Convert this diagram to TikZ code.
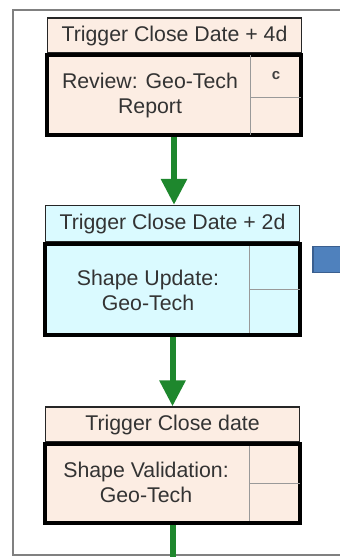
\documentclass[tikz,border=0pt]{standalone}
\usepackage{fontspec}
\setmainfont{Liberation Sans}
\usetikzlibrary{arrows.meta}
\definecolor{peach}{RGB}{252,237,227}
\definecolor{lcyan}{RGB}{218,250,255}
\definecolor{fgreen}{RGB}{30,135,45}
\definecolor{sblue}{RGB}{79,129,189}
\definecolor{sbluedark}{RGB}{58,95,143}
\definecolor{framegray}{RGB}{128,128,128}
\tikzset{
  hdr/.style={draw=black!85, line width=1.3pt, minimum width=254pt, inner sep=0pt, font=\fontsize{21.3}{24}\selectfont, text=black!80},
  mainbox/.style={draw=black, line width=4pt, minimum width=255pt, inner sep=0pt},
  lbl/.style={align=center, font=\fontsize{21.3}{25}\selectfont, text=black!80, inner sep=0pt},
  divider/.style={draw=black!40, line width=0.9pt},
  flow/.style={draw=fgreen, line width=6pt, -{Triangle[width=25pt,length=26pt]}}
}
\begin{document}
\begin{tikzpicture}[x=1pt,y=-1pt]
\clip (0,0) rectangle (340,557);
\fill[white] (0,0) rectangle (340,557);
% outer frame
\draw[framegray, line width=1.5pt] (340,10) -- (13,10) -- (13,555) -- (340,555);

% box 1
\node[hdr, fill=peach, minimum height=35pt] (h1) at (174.5,35.5) {Trigger Close Date + 4d};
\node[mainbox, fill=peach, minimum width=254pt, minimum height=80pt] (m1) at (174,95) {};
\draw[divider] (250,55) -- (250,135);
\draw[divider] (250,97) -- (301,97);
\node[lbl] (t1) at (150,95) {Review: Geo-Tech\\Report};
\node[inner sep=0pt, font=\fontsize{15}{17}\selectfont\bfseries, text=black!75] (c1) at (276,76) {c};

% box 2
\node[hdr, fill=lcyan, minimum height=36pt] (h2) at (172.5,223.5) {Trigger Close Date + 2d};
\node[mainbox, fill=lcyan, minimum height=91pt] (m2) at (172.5,289.5) {};
\draw[divider] (249,246) -- (249,333);
\draw[divider] (249,289) -- (300,289);
\node[lbl] (t2) at (148,290) {Shape Update:\\Geo-Tech};

% box 3
\node[hdr, fill=peach, minimum height=35pt] (h3) at (172.5,424.5) {Trigger Close date};
\node[mainbox, fill=peach, minimum height=79pt] (m3) at (172.5,483.5) {};
\draw[divider] (249,446) -- (249,521);
\draw[divider] (249,483) -- (300,483);
\node[lbl] (t3) at (146,482) {Shape Validation:\\Geo-Tech};

% blue block at right
\node[draw=sbluedark, fill=sblue, line width=1.5pt, minimum width=40pt, minimum height=26pt, inner sep=0pt] (b1) at (333,259.5) {};

% connectors
\coordinate (e3) at (172.5,560);
\draw[flow] (m1.south) -- (h2.north -| m1.south);
\draw[flow] (m2.south) -- (h3.north);
\draw[fgreen, line width=6pt] (m3.south) -- (e3);
\end{tikzpicture}
\end{document}
